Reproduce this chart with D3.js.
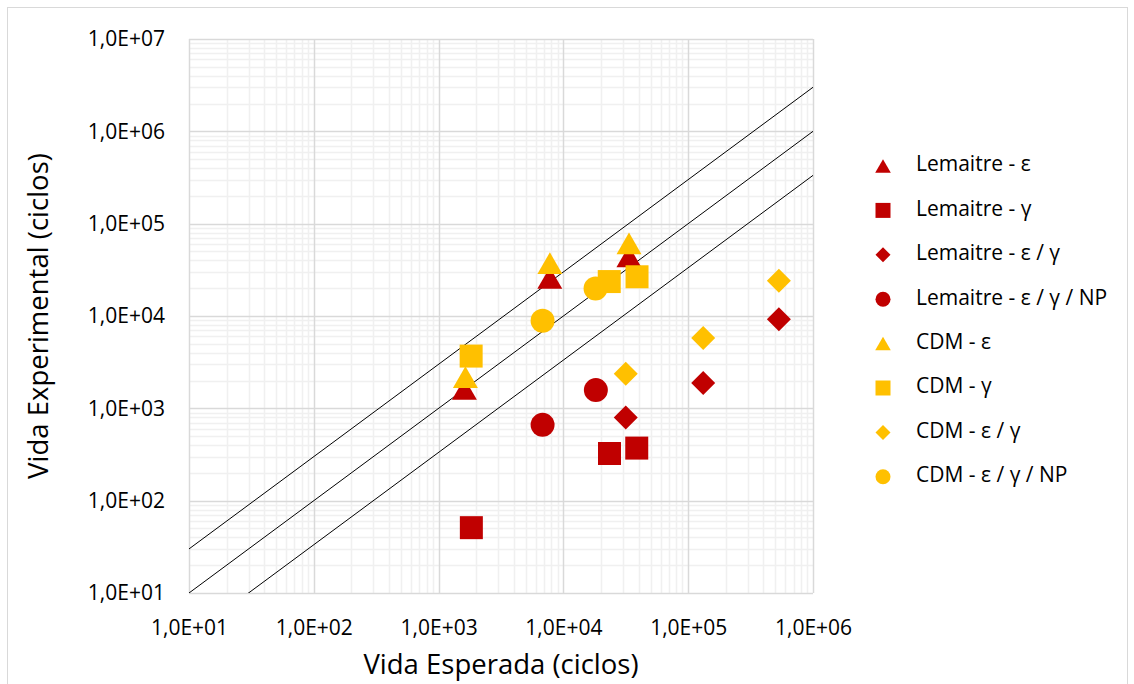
<!DOCTYPE html>
<html>
<head>
<meta charset="utf-8">
<script src="https://cdn.jsdelivr.net/npm/d3@7"></script>
<style>
	body { margin: 0; background: #fff; }
	text { font-family: "Open Sans", sans-serif; fill: #000; }
</style>
</head>
<body>
<div id="chart"></div>
<script>
(function(){
	// data: [expected life, experimental life]
	var lemaitreEps   = [[1610, 1620], [7780, 25800], [33500, 44200]];
	var lemaitreGam   = [[1830, 51], [23400, 324], [38700, 371]];
	var lemaitreEpsGam = [[31600, 797], [131800, 1880], [533000, 9250]];
	var lemaitreNP    = [[6810, 662], [18200, 1575]];
	var cdmEps   = [[1640, 2180], [7790, 37400], [33550, 61200]];
	var cdmGam   = [[1823, 3680], [23300, 23600], [38900, 26600]];
	var cdmEpsGam = [[31600, 2370], [131800, 5770], [533000, 24100]];
	var cdmNP    = [[6810, 8870], [18100, 19900]];

	var seriesNames = ['Lemaitre - \u03b5', 'Lemaitre - \u03b3', 'Lemaitre - \u03b5 / \u03b3', 'Lemaitre - \u03b5 / \u03b3 / NP',
		'CDM - \u03b5', 'CDM - \u03b3', 'CDM - \u03b5 / \u03b3', 'CDM - \u03b5 / \u03b3 / NP'];
	var seriesData = [lemaitreEps, lemaitreGam, lemaitreEpsGam, lemaitreNP, cdmEps, cdmGam, cdmEpsGam, cdmNP];
	var seriesShape = ['triangle', 'square', 'diamond', 'circle', 'triangle', 'square', 'diamond', 'circle'];
	var seriesColor = ['#C00000', '#C00000', '#C00000', '#C00000', '#FFC000', '#FFC000', '#FFC000', '#FFC000'];

	// ratio lines: experimental = factor * expected
	var lineFactors = [3, 1, 1/3];
	var xTicks = [1e1, 1e2, 1e3, 1e4, 1e5, 1e6];
	var yTicks = [1e1, 1e2, 1e3, 1e4, 1e5, 1e6, 1e7];

	var width = 1134, height = 684;
	var left = 189, right = 813, top = 39, bottom = 593;

	var svg = d3.select('#chart')
	.append('svg')
		.attr('width', width)
		.attr('height', height);

	// outer chart border
	svg.append('rect')
		.attr('x', 7.5).attr('y', 7.5)
		.attr('width', 1120).attr('height', 700)
		.attr('fill', 'none').attr('stroke', '#d9d9d9');

	var x = d3.scaleLog().domain([1e1, 1e6]).range([left, right]);
	var y = d3.scaleLog().domain([1e1, 1e7]).range([bottom, top]);

	var fmt = function(d) {
		var e = Math.round(Math.log10(d));
		return '1,0E+' + (e < 10 ? '0' : '') + e;
	};

	// minor grid
	var minorX = [], minorY = [];
	for (var e = 1; e < 7; e++) {
		for (var m = 2; m < 10; m++) {
			if (e < 6) minorX.push(m * Math.pow(10, e));
			minorY.push(m * Math.pow(10, e));
		}
	}
	var grid = svg.append('g');
	grid.selectAll('.mx').data(minorX).enter().append('line')
		.attr('x1', function(d){return Math.round(x(d)) + 0.5;})
		.attr('x2', function(d){return Math.round(x(d)) + 0.5;})
		.attr('y1', top).attr('y2', bottom)
		.attr('stroke', '#f0f0f0').attr('stroke-width', 1.5);
	grid.selectAll('.my').data(minorY).enter().append('line')
		.attr('y1', function(d){return Math.round(y(d)) + 0.5;})
		.attr('y2', function(d){return Math.round(y(d)) + 0.5;})
		.attr('x1', left).attr('x2', right)
		.attr('stroke', '#f0f0f0').attr('stroke-width', 1.5);
	grid.selectAll('.Mx').data(xTicks).enter().append('line')
		.attr('x1', function(d){return Math.round(x(d)) + 0.5;})
		.attr('x2', function(d){return Math.round(x(d)) + 0.5;})
		.attr('y1', top).attr('y2', bottom)
		.attr('stroke', '#d9d9d9').attr('stroke-width', 1.5);
	grid.selectAll('.My').data(yTicks).enter().append('line')
		.attr('y1', function(d){return Math.round(y(d)) + 0.5;})
		.attr('y2', function(d){return Math.round(y(d)) + 0.5;})
		.attr('x1', left).attr('x2', right)
		.attr('stroke', '#d9d9d9').attr('stroke-width', 1.5);

	// axes (labels only)
	var xAxis = svg.append('g')
		.attr('transform', 'translate(0,' + bottom + ')')
		.call(d3.axisBottom(x).tickValues(xTicks).tickFormat(fmt).tickSize(0).tickPadding(27));
	var yAxis = svg.append('g')
		.attr('transform', 'translate(' + left + ',0)')
		.call(d3.axisLeft(y).tickValues(yTicks).tickFormat(fmt).tickSize(0).tickPadding(24));
	[xAxis, yAxis].forEach(function(a) {
		a.select('.domain').remove();
		a.selectAll('text').style('font-size', '21px').style('font-family', '"Open Sans", sans-serif').attr('fill', '#000');
	});

	// ratio lines clipped to plot area
	svg.append('clipPath').attr('id', 'plotclip')
		.append('rect').attr('x', left).attr('y', top).attr('width', right - left).attr('height', bottom - top);
	var line = d3.line().x(function(d){return x(d[0]);}).y(function(d){return y(d[1]);});
	svg.append('g').attr('clip-path', 'url(#plotclip)')
		.selectAll('path').data(lineFactors).enter().append('path')
		.attr('d', function(f){return line([[1e1, 1e1 * f], [1e6, 1e6 * f]]);})
		.attr('fill', 'none').attr('stroke', '#000').attr('stroke-width', 1);

	var symbolOf = function(shape, size) {
		var s = size;
		if (shape === 'triangle') return 'M0,' + (-s*0.45) + 'L' + (s*0.52) + ',' + (s*0.45) + 'L' + (-s*0.52) + ',' + (s*0.45) + 'Z';
		if (shape === 'square') return 'M' + (-s/2) + ',' + (-s/2) + 'h' + s + 'v' + s + 'h' + (-s) + 'Z';
		if (shape === 'diamond') return 'M0,' + (-s/2) + 'L' + (s/2) + ',0L0,' + (s/2) + 'L' + (-s/2) + ',0Z';
		return d3.arc()({innerRadius: 0, outerRadius: s/2, startAngle: 0, endAngle: 2*Math.PI});
	};

	// markers
	seriesData.forEach(function(data, i) {
		var sz = seriesShape[i] === 'square' ? 23 : 24;
		svg.append('g').selectAll('path').data(data).enter().append('path')
			.attr('transform', function(d){return 'translate(' + x(d[0]) + ',' + y(d[1]) + ')';})
			.attr('d', symbolOf(seriesShape[i], sz))
			.attr('fill', seriesColor[i]);
	});

	// legend
	var legend = svg.append('g').attr('transform', 'translate(883,166)');
	var items = legend.selectAll('g').data(seriesNames).enter().append('g')
		.attr('transform', function(d,i){return 'translate(0,' + (i*44.4) + ')';});
	items.append('path')
		.attr('d', function(d,i){return symbolOf(seriesShape[i], 15);})
		.attr('fill', function(d,i){return seriesColor[i];});
	items.append('text')
		.attr('x', 33).attr('y', -2).attr('dy', '0.35em')
		.style('font-size', '21px')
		.text(function(d){return d;});

	// axis titles
	svg.append('text')
		.attr('x', (left + right) / 2).attr('y', 674)
		.attr('text-anchor', 'middle')
		.style('font-size', '27.5px')
		.text('Vida Esperada (ciclos)');
	svg.append('text')
		.attr('transform', 'translate(48,' + ((top + bottom) / 2) + ') rotate(-90)')
		.attr('text-anchor', 'middle')
		.style('font-size', '27.5px')
		.text('Vida Experimental (ciclos)');
})();
</script>
</body>
</html>
